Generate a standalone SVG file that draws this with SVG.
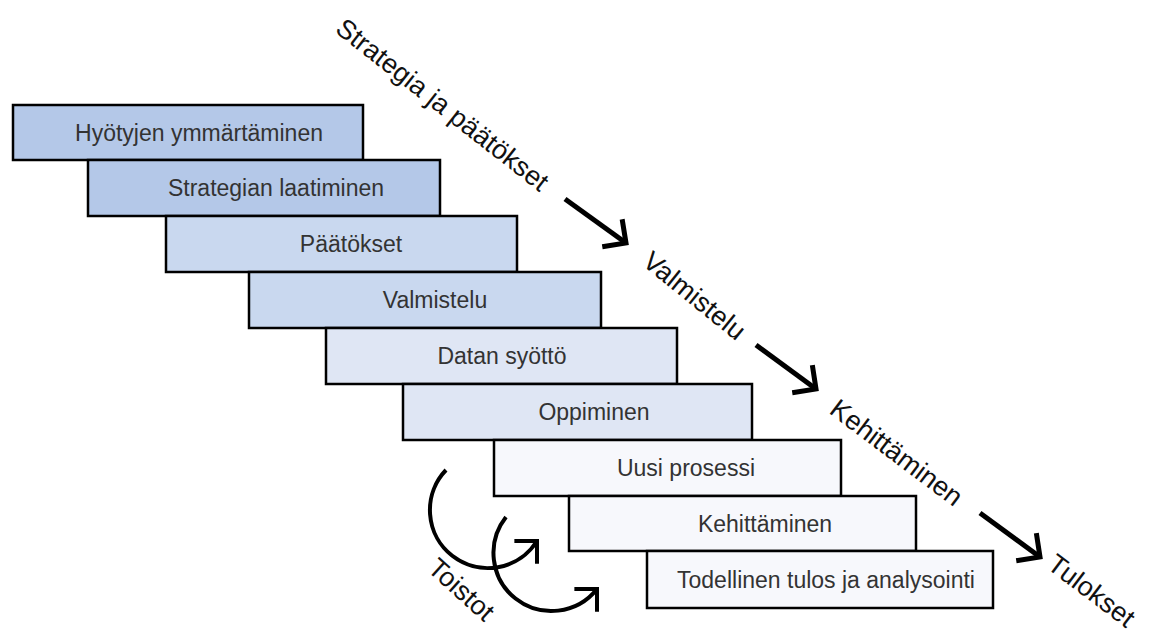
<svg xmlns="http://www.w3.org/2000/svg" width="1151" height="635" viewBox="0 0 1151 635">
<style>
  .box { stroke: #000; stroke-width: 2.5; }
  .c1 { fill: #b4c8e8; }
  .c2 { fill: #c9d8ef; }
  .c3 { fill: #dfe6f4; }
  .c4 { fill: #f7f8fc; }
  .lbl { font-family: "Liberation Sans", Arial, sans-serif; font-size: 23px; fill: #333; text-anchor: middle; }
  .rot { font-family: "Liberation Sans", Arial, sans-serif; font-size: 27px; fill: #111; text-anchor: middle; }
  .arr { stroke: #000; stroke-width: 5; fill: none; }
  .curve { stroke: #000; stroke-width: 4; fill: none; }
</style>
<defs>
  <marker id="chev" markerUnits="userSpaceOnUse" viewBox="-26 -22 30 44" markerWidth="30" markerHeight="44" refX="0" refY="0" orient="auto">
    <path d="M-17,-17 L0,0 L-17,17" fill="none" stroke="#000" stroke-width="5"/>
  </marker>
  <marker id="chev2" markerUnits="userSpaceOnUse" viewBox="-24 -20 28 40" markerWidth="28" markerHeight="40" refX="0" refY="0" orient="-45">
    <path d="M-16,-16 L0,0 L-16,16" fill="none" stroke="#000" stroke-width="4"/>
  </marker>
</defs>
<rect width="1151" height="635" fill="#fff"/>

<g id="n1"><rect class="box c1" x="13" y="105" width="350" height="55"/><text class="lbl" x="199" y="141">Hyötyjen ymmärtäminen</text></g>
<g id="n2"><rect class="box c1" x="88" y="160" width="352" height="56"/><text class="lbl" x="276" y="196">Strategian laatiminen</text></g>
<g id="n3"><rect class="box c2" x="166" y="216" width="351" height="56"/><text class="lbl" x="351" y="252">Päätökset</text></g>
<g id="n4"><rect class="box c2" x="249" y="272" width="352" height="56"/><text class="lbl" x="435" y="308">Valmistelu</text></g>
<g id="n5"><rect class="box c3" x="326" y="328" width="351" height="56"/><text class="lbl" x="502" y="364">Datan syöttö</text></g>
<g id="n6"><rect class="box c3" x="403" y="384" width="349" height="56"/><text class="lbl" x="594" y="420">Oppiminen</text></g>
<g id="n7"><rect class="box c4" x="494" y="440" width="347" height="56"/><text class="lbl" x="686" y="476">Uusi prosessi</text></g>
<g id="n8"><rect class="box c4" x="569" y="496" width="347" height="55"/><text class="lbl" x="765" y="532">Kehittäminen</text></g>
<g id="n9"><rect class="box c4" x="647" y="551" width="346" height="57"/><text class="lbl" x="826" y="588">Todellinen tulos ja analysointi</text></g>

<g id="labels">
  <text class="rot" transform="translate(443,104) rotate(38)" x="0" y="10">Strategia ja päätökset</text>
  <text class="rot" transform="translate(695,295) rotate(39)" x="0" y="10">Valmistelu</text>
  <text class="rot" transform="translate(897,452) rotate(37)" x="0" y="10">Kehittäminen</text>
  <text class="rot" transform="translate(1092,590) rotate(37)" x="0" y="10">Tulokset</text>
  <text class="rot" transform="translate(462,589) rotate(42)" x="0" y="10">Toistot</text>
</g>

<g id="connectors">
  <line class="arr" x1="565" y1="199" x2="626" y2="243" marker-end="url(#chev)"/>
  <line class="arr" x1="756" y1="345" x2="816" y2="389" marker-end="url(#chev)"/>
  <line class="arr" x1="980" y1="513" x2="1040" y2="557" marker-end="url(#chev)"/>
  <path class="curve" d="M446,470 A58,58 0 1,0 537,541" marker-end="url(#chev2)"/>
  <path class="curve" d="M506,517 A58,58 0 1,0 597,589" marker-end="url(#chev2)"/>
</g>
</svg>
